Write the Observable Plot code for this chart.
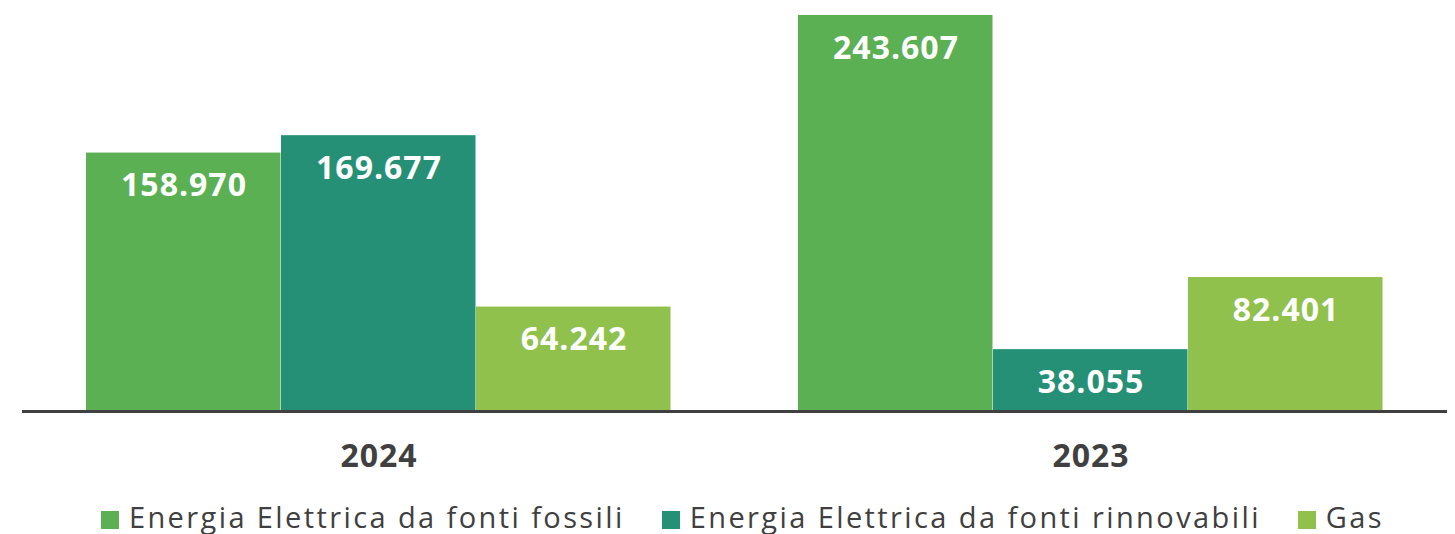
<!DOCTYPE html>
<html>
<head>
<meta charset="utf-8">
<script src="https://cdn.jsdelivr.net/npm/d3@7"></script>
<script src="https://cdn.jsdelivr.net/npm/@observablehq/plot@0.6"></script>
<style>
  body { margin: 0; background: #fff; }
  #legend { display: flex; justify-content: center; align-items: center; gap: 0 37px;
    font-family: "Open Sans", sans-serif; font-size: 29px; line-height: 34px; color: #404040;
    padding-left: 30px; letter-spacing: 2.4px; white-space: nowrap; }
  #legend .item { display: flex; align-items: center; }
  #legend .sw { width: 18px; height: 18px; margin-right: 10px; margin-top: 6px; }
</style>
</head>
<body>
<div id="chart"></div>
<div id="legend"></div>
<script>
const years = ["2024", "2023"];
const series = ["Energia Elettrica da fonti fossili", "Energia Elettrica da fonti rinnovabili", "Gas"];
const values2024 = [158970, 169677, 64242];
const values2023 = [243607, 38055, 82401];
const colors = ["#5BB053", "#259076", "#8FC14C"];

const valuesByYear = {"2024": values2024, "2023": values2023};
const data = years.flatMap(y => series.map((s, i) => ({year: y, series: s, value: valuesByYear[y][i]})));
const fmt = d3.formatLocale({decimal: ",", thousands: ".", grouping: [3], currency: ["€", ""]}).format(",");

const plot = Plot.plot({
  width: 1455,
  height: 500,
  marginTop: 15,
  marginBottom: 89,
  marginLeft: 22,
  marginRight: 8,
  style: {fontFamily: "'Open Sans', sans-serif", letterSpacing: "1px"},
  fx: {domain: years, paddingInner: 0.178, paddingOuter: 0.089, label: null, axis: null},
  x: {domain: series, padding: 0, axis: null},
  y: {domain: [0, 243607], axis: null},
  color: {domain: series, range: colors},
  marks: [
    Plot.barY(data, {fx: "year", x: "series", y: "value", fill: "series", insetRight: 0.5}),
    Plot.text(data, {fx: "year", x: "series", y: "value", text: d => fmt(d.value), dy: 33,
      fill: "white", fontSize: 32, fontWeight: "bold"}),
    Plot.ruleY([0], {stroke: "#404040", strokeWidth: 3, insetLeft: -64, insetRight: -64}),
    Plot.axisFx({anchor: "bottom", tickSize: 0, tickPadding: 33, fontSize: 32, fontWeight: "bold",
      fill: "#404040", label: null, style: {letterSpacing: "2.5px"}})
  ]
});
document.getElementById("chart").appendChild(plot);

const legend = document.getElementById("legend");
series.forEach((s, i) => {
  const item = document.createElement("div");
  item.className = "item";
  const sw = document.createElement("span");
  sw.className = "sw";
  sw.style.background = colors[i];
  const t = document.createElement("span");
  t.textContent = s;
  item.appendChild(sw);
  item.appendChild(t);
  legend.appendChild(item);
});
</script>
</body>
</html>
